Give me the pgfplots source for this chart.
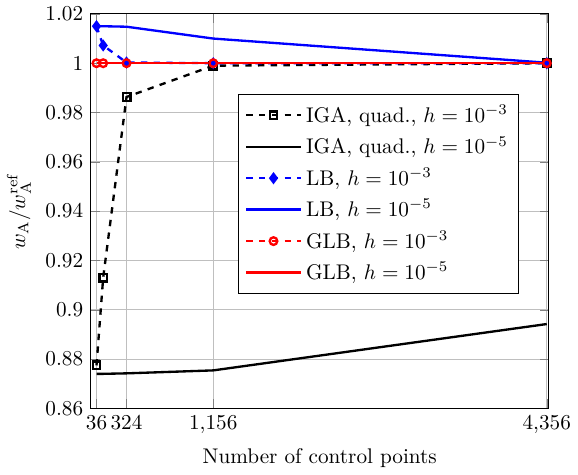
\documentclass[border=0pt]{standalone}
\usepackage{pgfplots}
\pgfplotsset{compat=1.18}
\begin{document}
\begin{tikzpicture}
\begin{axis}[
    scale only axis,
    width=216pt, height=186pt,
    xmin=-20, xmax=4375,
    ymin=0.86, ymax=1.02,
    xtick={36,324,1156,4356},
    ytick={0.86,0.88,...,1.021},
    grid=major,
    xlabel={Number of control points},
    ylabel={$w_\mathrm{A}/w_\mathrm{A}^\mathrm{ref}$},
    legend cell align=left,
    legend style={at={(0.935,0.797)}, anchor=north east, font=\normalsize,
        row sep=1.2pt, inner sep=3pt},
    legend image code/.code={
        \draw[mark repeat=2, mark phase=2]
            plot coordinates {(0cm,0cm) (0.45cm,0cm) (0.9cm,0cm)};
    },
    every axis plot/.append style={line width=1.1pt},
]
% IGA, quad.
\addplot[black, dashed, mark=square, mark size=1.8pt, mark options={solid}] coordinates {
    (36,0.8774) (100,0.913) (324,0.9863) (1156,0.9990) (4356,1.0000)
};
\addlegendentry{IGA, quad., $h=10^{-3}$}
\addplot[black] coordinates {
    (36,0.8740) (100,0.8740) (324,0.8742) (1156,0.8754) (4356,0.8942)
};
\addlegendentry{IGA, quad., $h=10^{-5}$}
% LB
\addplot[blue, dashed, mark=diamond*, mark options={solid}] coordinates {
    (36,1.0150) (100,1.0072) (324,1.0003) (1156,1.0000) (4356,1.0000)
};
\addlegendentry{LB, $h=10^{-3}$}
\addplot[blue] coordinates {
    (36,1.0150) (100,1.0150) (324,1.0148) (1156,1.0100) (4356,1.0002)
};
\addlegendentry{LB, $h=10^{-5}$}
% GLB
\addplot[red, dashed, mark=o, mark size=1.8pt, mark options={solid}] coordinates {
    (36,1.0000) (100,1.0000) (324,1.0000) (1156,1.0000) (4356,1.0000)
};
\addlegendentry{GLB, $h=10^{-3}$}
\addplot[red] coordinates {
    (36,1.0000) (100,1.0000) (324,1.0000) (1156,1.0000) (4356,1.0000)
};
\addlegendentry{GLB, $h=10^{-5}$}
\end{axis}
\end{tikzpicture}
\end{document}
